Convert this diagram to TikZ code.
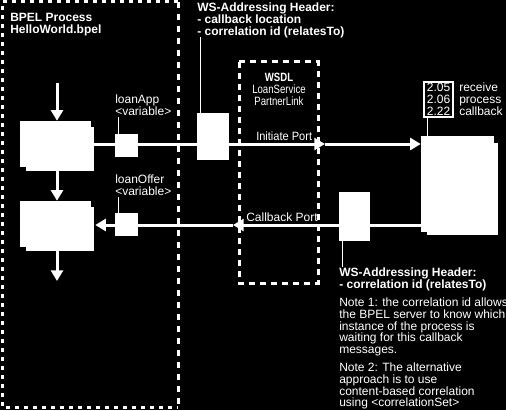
\documentclass[tikz,border=0pt]{standalone}
\usepackage{fontspec}
\setmainfont{Liberation Sans}
\newfontfamily\narrowsans[FakeStretch=0.8]{Liberation Sans}
\newfontfamily\slimsans[FakeStretch=0.92]{Liberation Sans}
\usetikzlibrary{arrows.meta}
\begin{document}
\begin{tikzpicture}[x=0.75pt,y=-0.75pt,
  lbl/.style={text=white,inner sep=0pt,align=left,anchor=north west,font=\fontsize{9}{9}\selectfont},
  hdr/.style={lbl,font=\bfseries\fontsize{9}{9}\selectfont},
  notetxt/.style={lbl,font=\fontsize{9}{8.75}\selectfont},
  solidbox/.style={fill=white,draw=none,inner sep=0pt},
  conn/.style={draw=white,line width=2.25pt,-{Triangle[length=8pt,width=9pt]}},
  leader/.style={draw=white,line width=0.75pt},
  boundary/.style={draw=white,line width=2.25pt,dash pattern=on 3pt off 3.75pt},
]
\fill[black] (0,0) rectangle (506,410);
\useasboundingbox (0,0) rectangle (506,410);

% process boundary
\draw[boundary] (178,2) -- (2,2) -- (2,407) -- (178,407);
\draw[boundary,dash pattern=on 4.5pt off 4.5pt] (178,2) -- (178,407);
% partner link boundary
\draw[boundary,dash pattern=on 4.5pt off 3.75pt] (239,62) rectangle (318,283);

% activity boxes with offset shadows
\fill[white] (26,127) rectangle (94,171);
\node[solidbox,minimum width=53.25pt,minimum height=34.5pt] (p1) at (55.5,144) {};
\fill[white] (26,207) rectangle (94,251);
\node[solidbox,minimum width=53.25pt,minimum height=34.5pt] (p2) at (55.5,224) {};
\fill[white] (427,143) rectangle (498,235);
\node[solidbox,minimum width=54.75pt,minimum height=72pt] (r) at (457.5,184) {};

% variables and headers
\node[solidbox,minimum size=17.25pt] (va) at (126.5,145.5) {};
\node[solidbox,minimum size=17.25pt] (vo) at (126.5,224.5) {};
\node[solidbox,minimum width=24pt,minimum height=35.25pt] (w1) at (213,136.5) {};
\node[solidbox,minimum width=23.25pt,minimum height=36.75pt] (w2) at (354.5,216.5) {};

% flow
\coordinate (s0) at (57,83);
\coordinate (e0) at (57,281);
\draw[conn] (s0) -- (s0 |- p1.north);
\draw[conn] (s0 |- p1.south) -- (s0 |- p2.north);
\draw[conn] (s0 |- p2.south) -- (e0);

\coordinate (ip) at (325,144);
\draw[conn] (p1.east) -- (ip);
\draw[conn] (ip) -- (r.west |- ip);

\coordinate (cp) at (233,225);
\draw[conn] (r.west |- cp) -- (cp);
\draw[conn,shorten >=3pt] (cp) -- (p2.east |- cp);

% texts
\node[hdr] (title) at (10,13) {BPEL Process\\HelloWorld.bpel};
\node[hdr] (wsh1) at (197,3) {WS-Addressing Header:\\- callback location\\- correlation id (relatesTo)};
\node[lbl] (lal) at (115,95) {loanApp\\<variable>};
\node[lbl] (lol) at (115,175) {loanOffer\\<variable>};
\node[lbl,anchor=north,align=center,font=\narrowsans\fontsize{9}{9}\selectfont] (wsdl) at (279,73) {\textbf{WSDL}\\LoanService\\PartnerLink};
\node[lbl,anchor=base west,font=\slimsans\fontsize{9}{9}\selectfont] (ipl) at (256,140) {Initiate Port};
\node[lbl,anchor=base west] (cpl) at (246,221) {Callback Port};
\node[hdr] (wsh2) at (339,268) {WS-Addressing Header:\\- correlation id (relatesTo)};
\node[notetxt] (n1) at (339,298) {Note 1: the correlation id allows\\the BPEL server to know which\\instance of the process is\\waiting for this callback\\messages.};
\node[notetxt] (n2) at (339,363) {Note 2: The alternative\\approach is to use\\content-based correlation\\using <correlationSet>};
\node[draw=white,line width=1.1pt,text=white,inner sep=0pt,align=center,minimum width=21.75pt,minimum height=26.25pt,font=\fontsize{9}{9}\selectfont] (nb) at (438.5,99.5) {2.05\\2.06\\2.22};
\node[lbl] (steps) at (459,83) {receive\\process\\callback};

% leader lines
\coordinate (h1) at (200,37);
\draw[leader] (h1) -- (h1 |- w1.north);
\coordinate (hla) at (118,117);
\draw[leader] (hla) -- (hla |- va.north);
\coordinate (hlo) at (118,197);
\draw[leader] (hlo) -- (hlo |- vo.north);
\coordinate (h2) at (342,267);
\draw[leader] (h2 |- w2.south) -- (h2);
\coordinate (nl) at (427,117);
\draw[leader] (nl) -- (nl |- r.north);
\end{tikzpicture}
\end{document}
